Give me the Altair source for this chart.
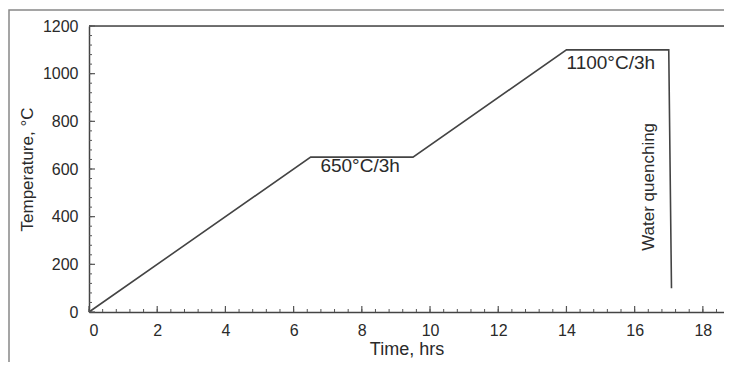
import altair as alt
import pandas as pd

# Heat-treatment schedule
time_h = [0, 6.5, 9.5, 14, 17, 17.08]
temp_c = [0, 650, 650, 1100, 1100, 100]

x_major = [0, 2, 4, 6, 8, 10, 12, 14, 16, 18]
y_major = [0, 200, 400, 600, 800, 1000, 1200]
x_minor = [round(i * 0.4, 2) for i in range(47)]
y_minor = [i * 40 for i in range(31)]

labels = ["650°C/3h", "1100°C/3h"]
label_x = [7.95, 15.3]
label_y = [612, 1046]

W, H = 635, 286
XD = [0, 18.62]
YD = [0, 1200]
FONT = "Liberation Sans"
INK = "#2a2a2a"

line_df = pd.DataFrame({"t": time_h, "T": temp_c})
xs = alt.Scale(domain=XD, nice=False, zero=False)
ys = alt.Scale(domain=YD, nice=False)

base_x = alt.X("t:Q", scale=xs, axis=alt.Axis(
    values=x_major, format="d", title="Time, hrs", ticks=False, grid=False,
    labelFont=FONT, labelFontSize=16, labelColor=INK, labelPadding=10,
    titleFont=FONT, titleFontSize=18, titleFontWeight="normal", titleColor=INK,
    titlePadding=2, domainColor="#444444", domainWidth=1.5))
base_y = alt.Y("T:Q", scale=ys, axis=alt.Axis(
    values=y_major, format="d", title="Temperature, °C", ticks=False, grid=False,
    labelFont=FONT, labelFontSize=16, labelColor=INK, labelPadding=11,
    titleFont=FONT, titleFontSize=17, titleFontWeight="normal", titleColor=INK,
    titlePadding=6, domainColor="#444444", domainWidth=1.5))

line = alt.Chart(line_df).mark_line(color="#444444", strokeWidth=1.6).encode(
    x=base_x, y=base_y, order="t:O")

top = alt.Chart(pd.DataFrame({"a": [0]})).mark_rule(color="#444444", strokeWidth=1.5, clip=False).encode(
    x=alt.value(0), x2=alt.value(W + 20), y=alt.value(0))

xminor = alt.Chart(pd.DataFrame({"t": x_minor})).mark_rule(color="#555555", strokeWidth=1).encode(
    x=alt.X("t:Q", scale=xs), y=alt.value(H), y2=alt.value(H - 3))
xmajor = alt.Chart(pd.DataFrame({"t": x_major})).mark_rule(color="#555555", strokeWidth=1.2).encode(
    x=alt.X("t:Q", scale=xs), y=alt.value(H), y2=alt.value(H - 6))
yminor = alt.Chart(pd.DataFrame({"T": y_minor})).mark_rule(color="#555555", strokeWidth=1).encode(
    y=alt.Y("T:Q", scale=ys), x=alt.value(0), x2=alt.value(3))
ymajor = alt.Chart(pd.DataFrame({"T": y_major})).mark_rule(color="#555555", strokeWidth=1.2).encode(
    y=alt.Y("T:Q", scale=ys), x=alt.value(0), x2=alt.value(6))

ann = alt.Chart(pd.DataFrame({"t": label_x, "T": label_y, "lab": labels})).mark_text(
    font=FONT, fontSize=19, color=INK, align="center", baseline="middle").encode(
    x=alt.X("t:Q", scale=xs), y=alt.Y("T:Q", scale=ys), text="lab:N")

water = alt.Chart(pd.DataFrame({"t": [16.42], "T": [525], "lab": ["Water quenching"]})).mark_text(
    font=FONT, fontSize=17, color=INK, angle=270, align="center", baseline="middle").encode(
    x=alt.X("t:Q", scale=xs), y=alt.Y("T:Q", scale=ys), text="lab:N")

frame = alt.Chart(pd.DataFrame({"a": [0]})).mark_rect(
    fill=None, stroke="#888888", strokeWidth=1.5, clip=False).encode(
    x=alt.value(-80), x2=alt.value(W + 200), y=alt.value(-16), y2=alt.value(H + 200))

chart = alt.layer(frame, top, line, xminor, xmajor, yminor, ymajor, ann, water).properties(
    width=W, height=H,
    autosize=alt.AutoSizeParams(type="none"),
    padding={"left": 81, "top": 18, "right": 0, "bottom": 50},
).configure_view(strokeWidth=0).configure(background="white")

chart.save("out.html", embed_options={"renderer": "svg", "actions": False})
